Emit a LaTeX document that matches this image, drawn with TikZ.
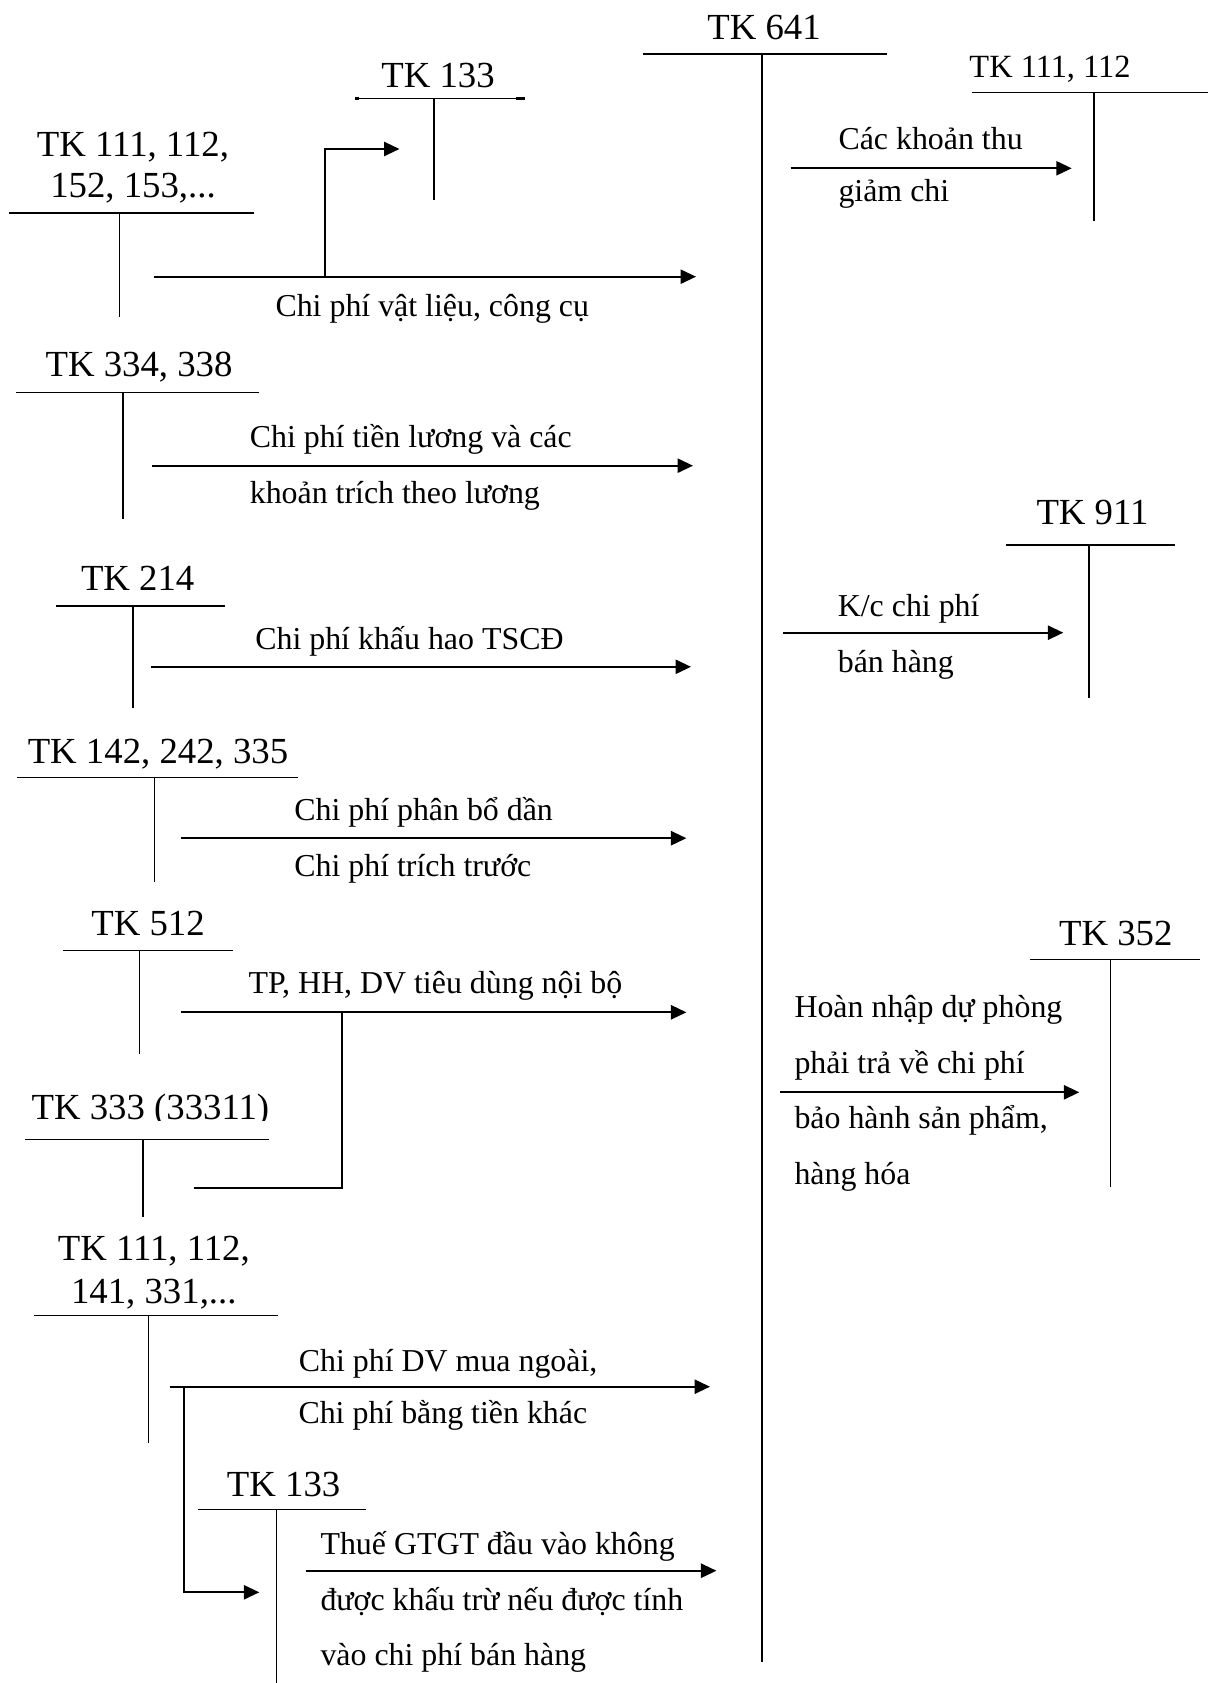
\documentclass[tikz,border=0pt]{standalone}
\usepackage{fontspec}
\setmainfont{Liberation Serif}
\usetikzlibrary{arrows.meta}
\begin{document}
\begin{tikzpicture}[x=0.3889pt,y=-0.3889pt,
  tline/.style={line width=0.55pt},
  mainline/.style={line width=0.8pt},
  flow/.style={line width=0.8pt,-{Triangle[length=6pt,width=5.5pt]}},
  joinline/.style={line width=0.7pt},
  tk/.style={font=\fontsize{14.3}{16}\selectfont, inner sep=0pt, anchor=base},
  tksmall/.style={font=\fontsize{12.6}{15}\selectfont, inner sep=0pt, anchor=base},
  lbl/.style={font=\fontsize{12.4}{14}\selectfont, inner sep=0pt, anchor=base west}]
\useasboundingbox (0,0) rectangle (1208,1683);

% ---------- TK 641 (central) ----------
\node[tk] (t641) at (764,40) {TK 641};
\draw[tline] (643,54) -- (887,54);
\draw[mainline] (761.7,54) -- (761.7,1662);

% ---------- TK 133 (top) ----------
\node[tk] (t133a) at (438,88) {TK 133};
\draw[tline] (355,98.3) -- (524.5,98.3);
\draw[line width=1.1pt] (355,98.3) -- (359,98.3);
\draw[line width=1.1pt] (516,98.3) -- (524.5,98.3);
\draw[tline] (434,98.3) -- (434,200);

% ---------- TK 111, 112, 152, 153 ----------
\node[tk] (t111a1) at (133,157) {TK 111, 112,};
\node[tk] (t111a2) at (133,197.7) {152, 153,...};
\draw[tline] (9,213) -- (253.6,213);
\draw[tline] (119.6,213) -- (119.6,316.7);

\coordinate (a1s) at (154,276.7);
\coordinate (a1e) at (696,276.7);
\coordinate (b1s) at (325,276.7);
\coordinate (b1e) at (399.5,149);
\draw[flow] (a1s) -- (a1e);
\draw[flow] (b1s) |- (b1e);
\node[lbl] (l1) at (275,316.7) {Chi phí vật liệu, công cụ};

% ---------- TK 111, 112 (right top) ----------
\node[tksmall] (t111r) at (1050,77.3) {TK 111, 112};
\draw[tline] (971.7,92.7) -- (1208,92.7);
\draw[tline] (1094,92.7) -- (1094,220.7);
\coordinate (r1s) at (790.7,168.3);
\coordinate (r1e) at (1071.7,168.3);
\draw[flow] (r1s) -- (r1e);
\node[lbl] (lr1a) at (838,150) {Các khoản thu};
\node[lbl] (lr1b) at (838,201.5) {giảm chi};

% ---------- TK 334, 338 ----------
\node[tk] (t334) at (139,376.8) {TK 334, 338};
\draw[tline] (16,392.5) -- (259.4,392.5);
\draw[tline] (123,392.5) -- (123,518.6);
\coordinate (a2s) at (151.5,465.7);
\coordinate (a2e) at (693,465.7);
\draw[flow] (a2s) -- (a2e);
\node[lbl] (l2a) at (249.3,447.1) {Chi phí tiền lương và các};
\node[lbl] (l2b) at (249.3,503.6) {khoản trích theo lương};

% ---------- TK 911 ----------
\node[tk] (t911) at (1092.5,525) {TK 911};
\draw[tline] (1006,545) -- (1175,545);
\draw[tline] (1089,545) -- (1089,698.3);
\coordinate (r2s) at (782.7,632.7);
\coordinate (r2e) at (1063.3,632.7);
\draw[flow] (r2s) -- (r2e);
\node[lbl] (lr2a) at (837.3,616.7) {K/c chi phí};
\node[lbl] (lr2b) at (837.3,672.7) {bán hàng};

% ---------- TK 214 ----------
\node[tk] (t214) at (137.7,591) {TK 214};
\draw[tline] (56,606) -- (225.4,606);
\draw[tline] (133,606) -- (133,707.9);
\coordinate (a3s) at (150.6,666.8);
\coordinate (a3e) at (691,666.8);
\draw[flow] (a3s) -- (a3e);
\node[lbl] (l3) at (254.8,650) {Chi phí khấu hao TSCĐ};

% ---------- TK 142, 242, 335 ----------
\node[tk] (t142) at (158,763.2) {TK 142, 242, 335};
\draw[tline] (17,777.5) -- (298.4,777.5);
\draw[tline] (154.7,777.5) -- (154.7,882.1);
\coordinate (a4s) at (181.4,838.2);
\coordinate (a4e) at (686.4,838.2);
\draw[flow] (a4s) -- (a4e);
\node[lbl] (l4a) at (293.8,820.4) {Chi phí phân bổ dần};
\node[lbl] (l4b) at (293.8,876.8) {Chi phí trích trước};

% ---------- TK 512 ----------
\node[tk] (t512) at (148,935) {TK 512};
\draw[tline] (62.9,950.7) -- (232.8,950.7);
\draw[tline] (139.6,950.7) -- (139.6,1054);
\coordinate (a5s) at (181.4,1012.3);
\coordinate (a5e) at (686.4,1012.3);
\coordinate (j5t) at (342,1012.3);
\coordinate (j5b) at (193.8,1188.3);
\draw[flow] (a5s) -- (a5e);
\draw[joinline] (j5t) |- (j5b);
\node[lbl] (l5) at (248,993.3) {TP, HH, DV tiêu dùng nội bộ};

% ---------- TK 333 (33311) ----------
\begin{scope}
\clip (0,1080) rectangle (320,1120.5);
\node[tk] (t333) at (150.4,1119.3) {TK 333 (33311)};
\end{scope}
\draw[tline] (25.3,1139.3) -- (268.6,1139.3);
\draw[tline] (142.8,1139.3) -- (142.8,1217.3);

% ---------- TK 352 ----------
\node[tk] (t352) at (1115.8,945) {TK 352};
\draw[tline] (1030,959.3) -- (1200,959.3);
\draw[tline] (1110.7,959.3) -- (1110.7,1186.7);
\coordinate (r3s) at (780,1092.3);
\coordinate (r3e) at (1079.3,1092.3);
\draw[flow] (r3s) -- (r3e);
\node[lbl] (lr3a) at (794,1017.3) {Hoàn nhập dự phòng};
\node[lbl] (lr3b) at (794,1073.3) {phải trả về chi phí};
\node[lbl] (lr3c) at (794,1128.3) {bảo hành sản phẩm,};
\node[lbl] (lr3d) at (794,1184) {hàng hóa};

% ---------- TK 111, 112, 141, 331 ----------
\node[tk] (t111b1) at (153.8,1260.7) {TK 111, 112,};
\node[tk] (t111b2) at (153.8,1303.3) {141, 331,...};
\draw[tline] (34.4,1315.7) -- (277.8,1315.7);
\draw[tline] (148.3,1315.7) -- (148.3,1443.3);
\coordinate (a6s) at (169.7,1386.7);
\coordinate (a6e) at (710,1386.7);
\coordinate (b6s) at (184.2,1386.7);
\coordinate (b6e) at (259.3,1592.3);
\draw[flow] (a6s) -- (a6e);
\draw[flow] (b6s) |- (b6e);
\node[lbl] (l6a) at (298.4,1371.7) {Chi phí DV mua ngoài,};
\node[lbl] (l6b) at (298,1423.3) {Chi phí bằng tiền khác};

% ---------- TK 133 (bottom) ----------
\node[tk] (t133b) at (283.6,1496) {TK 133};
\draw[tline] (197.8,1509.3) -- (366,1509.3);
\draw[tline] (276.3,1509.3) -- (276.3,1683);
\coordinate (a7s) at (306.4,1570.7);
\coordinate (a7e) at (716.4,1570.7);
\draw[flow] (a7s) -- (a7e);
\node[lbl] (l7a) at (320,1554) {Thuế GTGT đầu vào không};
\node[lbl] (l7b) at (320,1610) {được khấu trừ nếu được tính};
\node[lbl] (l7c) at (320,1665) {vào chi phí bán hàng};
\end{tikzpicture}
\end{document}
